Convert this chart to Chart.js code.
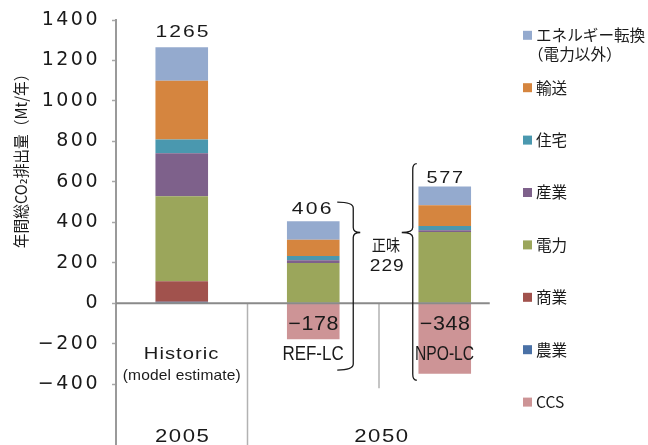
<!DOCTYPE html>
<html><head><meta charset="utf-8">
<script src="https://cdn.jsdelivr.net/npm/chart.js@4.4.1/dist/chart.umd.min.js"></script>
<style>html,body{margin:0;padding:0;background:#fff;overflow:hidden}#wrap{width:648px;height:445px}</style>
</head><body><div id="wrap"><canvas id="c" width="648" height="445"></canvas></div>
<script>
// ---- data ----
const categories = ['Historic', 'REF-LC', 'NPO-LC'];
const categoryNotes = ['(model estimate)', '', ''];
const yearLabels = ['2005', '2050'];
const agriculture = [8, 0, 0];        // 農業
const commercial  = [101, 0, 0];      // 商業
const power       = [420, 199, 353];  // 電力
const industry    = [212, 14, 8];     // 産業
const residential = [69, 21, 21];     // 住宅
const transport   = [290, 80, 103];   // 輸送
const energyConv  = [165, 92, 92];    // エネルギー転換（電力以外）
const ccs         = [0, -178, -348];  // CCS
const yTicks = [-400, -200, 0, 200, 400, 600, 800, 1000, 1200, 1400];
const seriesNames = ['農業', '商業', '電力', '産業', '住宅', '輸送', 'エネルギー転換\n（電力以外）', 'CCS'];
const seriesColors = ['#4A71A6', '#A1524D', '#9BA65B', '#7E618B', '#4A98AF', '#D5853F', '#94AACE', '#CD9496'];
const legendOrder = [6, 5, 4, 3, 2, 1, 0, 7];
const yTitle = '年間総CO₂排出量（Mt/年）';
const netLabel = '正味';

const seriesValues = [agriculture, commercial, power, industry, residential, transport, energyConv, ccs];
const datasets = seriesValues.map((vals, i) => ({
  label: seriesNames[i],
  data: vals,
  backgroundColor: seriesColors[i],
  borderWidth: 0,
  stack: 's',
  barPercentage: 0.4,
  categoryPercentage: 1.0
}));

const LATIN = '"Liberation Sans", Arial, sans-serif';
const JP = '"Noto Sans CJK JP", "DejaVu Sans", sans-serif';

// draws text whose visible box is centred on (cx, cy) and is w px wide;
// extra width is shared between horizontal scaling (mix) and letter spacing
function fitText(ctx, s, cx, cy, font, w, opts) {
  opts = opts || {};
  ctx.save();
  ctx.letterSpacing = '0px';
  ctx.font = font;
  ctx.fillStyle = opts.color || '#1a1a1a';
  ctx.textAlign = 'left';
  ctx.textBaseline = 'alphabetic';
  const m = ctx.measureText(s);
  const L = m.actualBoundingBoxLeft, R = m.actualBoundingBoxRight;
  const A = m.actualBoundingBoxAscent, D = m.actualBoundingBoxDescent;
  const vis = L + R;
  const n = [...s].length;
  let sx = 1, sp = 0;
  if (w) {
    if (w <= vis || n < 2) sx = w / vis;
    else {
      const mix = opts.mix == null ? 0.65 : opts.mix;
      sx = 1 + (w / vis - 1) * mix;
      sp = (w - vis * sx) / (n - 1) / sx;
    }
  }
  ctx.letterSpacing = sp + 'px';
  ctx.translate(cx, cy);
  if (opts.rotate) ctx.rotate(opts.rotate);
  ctx.scale(sx, 1);
  const visW = vis + sp * (n - 1);
  ctx.fillText(s, -visW / 2 + L, (A - D) / 2);
  ctx.restore();
}

function brace(ctx, xe, xs, xt, yt, ym, yb) {
  const r = 6, rt = 5;
  ctx.beginPath();
  ctx.moveTo(xe, yt);
  ctx.quadraticCurveTo(xs, yt, xs, yt + r);
  ctx.lineTo(xs, ym - rt);
  ctx.quadraticCurveTo(xs, ym, xt, ym);
  ctx.quadraticCurveTo(xs, ym, xs, ym + rt);
  ctx.lineTo(xs, yb - r);
  ctx.quadraticCurveTo(xs, yb, xe, yb);
  ctx.stroke();
}

const spacingPlugin = {
  id: 'spacing',
  beforeDraw(chart) { chart.ctx.letterSpacing = '2.5px'; },
  afterDraw(chart) { chart.ctx.letterSpacing = '0px'; }
};

const annotPlugin = {
  id: 'annot',
  afterDatasetsDraw(chart) {
    const ctx = chart.ctx, ca = chart.chartArea, x = chart.scales.x, y = chart.scales.y;
    const y0 = y.getPixelForValue(0);
    const cx = categories.map((_, i) => x.getPixelForValue(i));
    ctx.save();
    ctx.letterSpacing = '0px';
    // separators
    ctx.strokeStyle = '#b2b2b2'; ctx.lineWidth = 1.5;
    const s1 = (cx[0] + cx[1]) / 2, s2 = (cx[1] + cx[2]) / 2;
    ctx.beginPath(); ctx.moveTo(s1, y0); ctx.lineTo(s1, ca.bottom); ctx.stroke();
    ctx.beginPath(); ctx.moveTo(s2, y0); ctx.lineTo(s2, y.getPixelForValue(-420)); ctx.stroke();
    // zero line
    ctx.strokeStyle = '#8a8a8a'; ctx.lineWidth = 2;
    ctx.beginPath(); ctx.moveTo(ca.left, y0); ctx.lineTo(cx[2] + 45, y0); ctx.stroke();
    // braces
    ctx.strokeStyle = '#1a1a1a'; ctx.lineWidth = 1.3;
    brace(ctx, cx[1] + 24, cx[1] + 40, cx[1] + 47, y.getPixelForValue(500), y.getPixelForValue(350), y.getPixelForValue(-330));
    brace(ctx, cx[2] - 28, cx[2] - 32, cx[2] - 43, y.getPixelForValue(690), y.getPixelForValue(350), y.getPixelForValue(-380));
    ctx.restore();

    // totals & negatives
    const totOff = [-16.5, -13.5, -10];
    const totDx = [1, -1.5, 0];
    const totW = [51.7, 40, 36.7];
    categories.forEach((c, i) => {
      let pos = 0, neg = 0;
      seriesValues.forEach(v => { if (v[i] > 0) pos += v[i]; else neg += v[i]; });
      fitText(ctx, String(pos), cx[i] + totDx[i], y.getPixelForValue(pos) + totOff[i], '16px ' + LATIN, totW[i]);
      if (neg < 0) fitText(ctx, '−' + Math.abs(neg), cx[i], y0 + 19.5, '20px ' + LATIN, 50);
    });
    // category labels
    const catW = [73.3, 60, 58];
    categories.forEach((c, i) => {
      fitText(ctx, c, cx[i], y0 + 49.2, (i === 0 ? '16px ' : '20px ') + LATIN, catW[i]);
      if (categoryNotes[i]) fitText(ctx, categoryNotes[i], cx[i], y0 + 72.5, '15px ' + LATIN, 118);
    });
    // year labels
    fitText(ctx, yearLabels[0], cx[0], ca.bottom - 10, '18.5px ' + LATIN, 53.3);
    fitText(ctx, yearLabels[1], (cx[1] + cx[2]) / 2 + 2, ca.bottom - 10, '18.5px ' + LATIN, 53.3);
    // net label
    const net = seriesValues.reduce((a, v) => a + v[2], 0);
    fitText(ctx, netLabel, s2 + 7, y.getPixelForValue(290), '16px ' + JP, 28.3);
    fitText(ctx, String(net), s2 + 7.5, y.getPixelForValue(191), '17px ' + LATIN, 33.3);
  },
  afterDraw(chart) {
    const ctx = chart.ctx;
    // y axis title
    fitText(ctx, yTitle, 21.7, 162.5, '16px ' + JP, 171.6, { rotate: -Math.PI / 2, mix: 1 });
    // legend
    ctx.save();
    ctx.letterSpacing = '0px';
    legendOrder.forEach((di, k) => {
      const cy = 35.3 + k * 52.4;
      ctx.fillStyle = seriesColors[di];
      ctx.fillRect(523, cy - 4.5, 9, 9);
      ctx.fillStyle = '#1a1a1a';
      ctx.font = '15.6px ' + JP;
      ctx.textAlign = 'left';
      ctx.textBaseline = 'middle';
      const lines = seriesNames[di].split('\n');
      lines.forEach((ln, j) => {
        ctx.fillText(ln, j === 0 ? 536 : 528, cy + j * 18.5);
      });
    });
    ctx.restore();
  }
};

new Chart(document.getElementById('c'), {
  type: 'bar',
  data: { labels: categories, datasets },
  options: {
    responsive: false,
    animation: false,
    devicePixelRatio: 1,
    layout: { padding: { top: 20, right: 137.5, left: 0, bottom: 0 } },
    plugins: { legend: { display: false }, tooltip: { enabled: false } },
    scales: {
      x: { stacked: true, display: false, offset: true, grid: { display: false } },
      y: {
        stacked: true,
        min: -700,
        max: 1400,
        afterBuildTicks: s => { s.ticks = yTicks.map(v => ({ value: v })); },
        afterFit: s => { s.width = 116; s.paddingTop = 0; s.paddingBottom = 0; },
        ticks: {
          font: { family: 'DejaVu Sans', size: 19 },
          color: '#1a1a1a',
          padding: 12,
          callback: v => v < 0 ? '−' + Math.abs(v) : String(v)
        },
        grid: { drawOnChartArea: false, drawTicks: true, tickLength: 4, tickColor: '#a8a8a8', tickWidth: 1.5 },
        border: { display: true, color: '#9a9a9a', width: 2 }
      }
    }
  },
  plugins: [spacingPlugin, annotPlugin]
});
</script>
</body></html>
